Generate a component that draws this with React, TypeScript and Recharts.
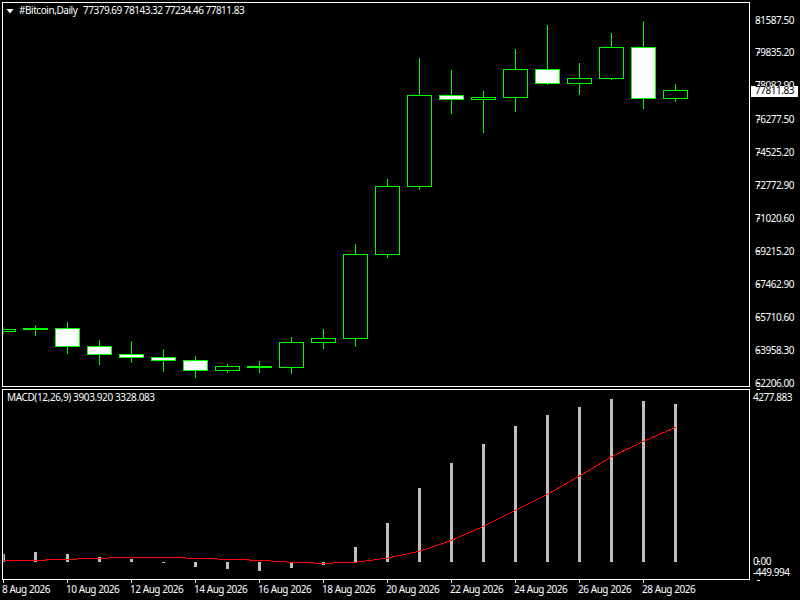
import { Bar, ComposedChart, Line, XAxis, YAxis } from 'recharts';

// Daily candles, oldest first
const opens = [64983.2, 65090.0, 65143.4, 64182.4, 63755.2, 63595.1, 63434.9, 62901.0, 63061.2, 63061.2, 64395.9, 64609.5, 69094.2, 72724.8, 77583.2, 77369.7, 77476.5, 78971.4, 78223.9, 78490.9, 80146.0, 77379.69];
const highs = [65196.8, 65303.5, 65463.7, 64502.7, 64449.3, 64022.2, 63648.5, 63221.3, 63381.5, 64662.9, 65090.0, 69628.1, 73098.5, 79558.7, 78918.0, 77796.8, 80039.2, 81320.5, 79291.7, 80893.5, 81534.1, 78143.32];
const lows = [64876.4, 64769.6, 63808.6, 63221.3, 63328.1, 62847.6, 62527.3, 62794.2, 62794.2, 62740.8, 64075.6, 64182.4, 68934.1, 72564.6, 76622.2, 75607.8, 76729.0, 78170.5, 77636.6, 78437.5, 76889.2, 77234.46];
const closes = [65090.0, 65143.4, 64182.4, 63755.2, 63595.1, 63434.9, 62901.0, 63114.6, 63114.6, 64395.9, 64609.5, 69094.2, 72724.8, 77583.2, 77369.7, 77476.5, 78971.4, 78223.9, 78490.9, 80146.0, 77423.1, 77811.83];

const macd = [193, 243, 193, 119, 69, -30, -129, -178, -228, -153, -79, 366, 960, 1827, 2445, 2916, 3361, 3633, 3831, 4029, 3980, 3903.92];
const signal = [37, 37, 62, 87, 111, 111, 87, 62, 37, -12, -37, -12, 94, 260, 532, 879, 1275, 1671, 2124, 2601, 2982, 3328.083];

const dateLabels = ['8 Aug 2026', '10 Aug 2026', '12 Aug 2026', '14 Aug 2026', '16 Aug 2026', '18 Aug 2026', '20 Aug 2026', '22 Aug 2026', '24 Aug 2026', '26 Aug 2026', '28 Aug 2026'];
const dateTicks = [0, 2, 4, 6, 8, 10, 12, 14, 16, 18, 20];
const priceTicks = [81587.5, 79835.2, 78082.9, 76277.5, 74525.2, 72772.9, 71020.6, 69215.2, 67462.9, 65710.6, 63958.3, 62206.0];
const lastPrice = 77811.83;
const macdTicks = [4277.883, 0, -449.994];

const candles = opens.map((open, i) => ({ i, open, high: highs[i], low: lows[i], close: closes[i] }));
const macdRows = macd.map((m, i) => ({ i, macd: m, signal: signal[i] }));

const FONT = '"Noto Sans", sans-serif';
const TIGHT = '-0.45px';
const X_DOMAIN: [number, number] = [0, 23.296875];
const frame = (left: number, top: number, width: number, height: number) => ({
  position: 'absolute' as const,
  left,
  top,
  width,
  height,
  border: '1px solid #fff',
  boxSizing: 'border-box' as const,
});
const label = (left: number, top: number, spacing = TIGHT) => ({
  position: 'absolute' as const,
  left,
  top,
  color: '#fff',
  fontFamily: FONT,
  fontSize: 10,
  letterSpacing: spacing,
  lineHeight: '12px',
  whiteSpace: 'pre' as const,
});

function Candle(props: any) {
  const { x, y, width, height, payload } = props;
  const perUnit = height / (payload.high - payload.low);
  const cx = x + width / 2;
  const top = y + (payload.high - Math.max(payload.open, payload.close)) * perUnit;
  const bottom = y + (payload.high - Math.min(payload.open, payload.close)) * perUnit;
  const snap = (v: number) => Math.floor(v) + 0.5;
  const bear = payload.close < payload.open;
  return (
    <g shapeRendering="crispEdges">
      <line x1={cx} x2={cx} y1={Math.floor(y)} y2={Math.ceil(y + height)} stroke="#00ff00" />
      <rect
        x={x}
        y={snap(top)}
        width={width}
        height={Math.max(1, snap(bottom) - snap(top))}
        fill={bear ? '#ffffff' : '#000000'}
        stroke="#00ff00"
      />
    </g>
  );
}

function PriceTick(props: any) {
  const { x, y, payload } = props;
  const left = Math.floor(x);
  const row = Math.floor(y) + 0.5;
  const isLast = payload.value === lastPrice;
  return (
    <g>
      <line x1={left} x2={left + 3} y1={row} y2={row} stroke="#fff" />
      {isLast && <rect x={751} y={row - 4.5} width={47} height={11} fill="#fff" />}
      <text x={755} y={row + 3.5} fontFamily={FONT} fontSize={10} letterSpacing={TIGHT} fill={isLast ? '#000' : '#fff'}>
        {payload.value.toFixed(2)}
      </text>
    </g>
  );
}

function MacdTick(props: any) {
  const { x, y, payload } = props;
  const left = Math.floor(x);
  const row = Math.floor(y) + 0.5;
  const v = payload.value;
  const shift = v > 0 ? 11 : v < 0 ? -4.5 : 3.5;
  return (
    <g>
      <line x1={left} x2={left + 3} y1={row} y2={row} stroke="#fff" />
      <text x={753} y={row + shift} fontFamily={FONT} fontSize={10} letterSpacing={TIGHT} fill="#fff">
        {v === 0 ? '0.00' : v.toFixed(3)}
      </text>
    </g>
  );
}

function DateTick(props: any) {
  const { x, y, index } = props;
  const col = Math.floor(x) + 0.5;
  return (
    <g>
      <line x1={col} x2={col} y1={y - 8} y2={y - 5} stroke="#fff" />
      <text x={col - 1.5} y={y + 5} fontFamily={FONT} fontSize={10} letterSpacing={TIGHT} fill="#fff">
        {dateLabels[index]}
      </text>
    </g>
  );
}

export default function App() {
  return (
    <div style={{ position: 'absolute', left: 0, top: 0, width: 800, height: 600, background: '#000', overflow: 'hidden' }}>
      <div style={{ position: 'absolute', left: 0, top: 0 }}>
        <ComposedChart width={800} height={394} data={candles} margin={{ top: 3, right: 0, bottom: 8, left: 3.5 }}>
          <XAxis dataKey="i" type="number" domain={X_DOMAIN} allowDataOverflow hide />
          <YAxis
            orientation="right"
            width={51}
            domain={[62051.8, 82500.4]}
            allowDataOverflow
            ticks={[...priceTicks, lastPrice]}
            interval={0}
            axisLine={false}
            tickLine={false}
            tick={<PriceTick />}
          />
          <Bar dataKey={(d: any) => [d.low, d.high]} barSize={24} shape={<Candle />} isAnimationActive={false} />
        </ComposedChart>
      </div>
      <div style={{ position: 'absolute', left: 0, top: 388 }}>
        <ComposedChart width={800} height={212} data={macdRows} margin={{ top: 1, right: 0, bottom: 0, left: 3.5 }}>
          <XAxis
            dataKey="i"
            type="number"
            domain={X_DOMAIN}
            allowDataOverflow
            ticks={dateTicks}
            interval={0}
            height={20}
            axisLine={false}
            tickLine={false}
            tick={<DateTick />}
          />
          <YAxis
            orientation="right"
            width={51}
            domain={[-449.994, 4277.883]}
            allowDataOverflow
            ticks={macdTicks}
            interval={0}
            axisLine={false}
            tickLine={false}
            tick={<MacdTick />}
          />
          <Bar dataKey="macd" barSize={3} fill="#c0c0c0" shapeRendering="crispEdges" isAnimationActive={false} />
          <Line dataKey="signal" type="linear" stroke="#ff0000" strokeWidth={1} shapeRendering="crispEdges" dot={false} isAnimationActive={false} />
        </ComposedChart>
      </div>
      <div style={frame(2, 2, 748, 385)} />
      <div style={frame(2, 389, 748, 191)} />
      <svg style={{ position: 'absolute', left: 6, top: 9 }} width={8} height={5}>
        <polygon points="0.5,0 7.5,0 4,4.5" fill="#fff" />
      </svg>
      <div style={label(19, 4)}>{'#Bitcoin,Daily'}</div>
      <div style={label(83, 4, '-0.5px')}>{'77379.69 78143.32 77234.46 77811.83'}</div>
      <div style={label(7, 391, '-0.38px')}>{'MACD(12,26,9) 3903.920 3328.083'}</div>
    </div>
  );
}
